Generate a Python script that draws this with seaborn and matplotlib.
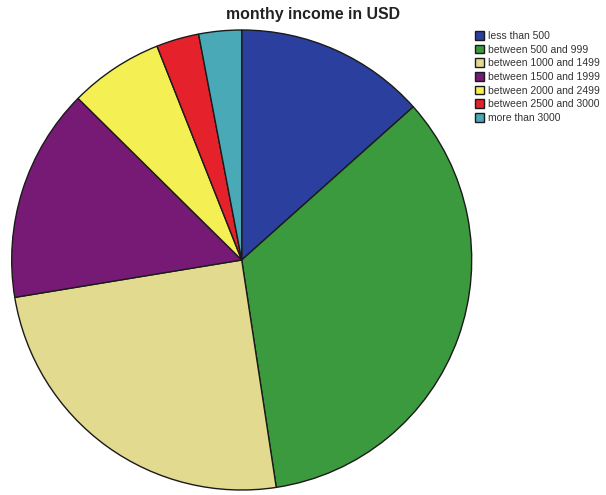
import matplotlib
matplotlib.use("Agg")
import matplotlib.pyplot as plt
import seaborn as sns

sns.set_style("white")
plt.rcParams['font.family'] = ['Liberation Sans', 'DejaVu Sans']

categories = ["less than 500", "between 500 and 999", "between 1000 and 1499",
              "between 1500 and 1999", "between 2000 and 2499",
              "between 2500 and 3000", "more than 3000"]
shares = [13.4, 34.2, 24.8, 15.0, 6.6, 3.0, 3.0]
colors = ["#2b3f9e", "#3b9a3d", "#e2da8e", "#771a76", "#f4ef52", "#e5222b", "#4aa9b6"]
title = "monthy income in USD"

fig = plt.figure(figsize=(6.06, 4.95), dpi=100)
ax = fig.add_axes([11.7 / 606, 5 / 495, 460 / 606, 460 / 495])
wedges, _ = ax.pie(shares, colors=colors, startangle=90, counterclock=False,
                   wedgeprops=dict(edgecolor="#1a1a1a", linewidth=1.0))
ax.set_aspect("equal")
ax.set_xlim(-1.0, 1.0)
ax.set_ylim(-1.0, 1.0)
ax.axis("off")

fig.text(313 / 606, 1 - 15 / 495, title, ha="center", va="center",
         fontsize=11.4, fontweight="bold", color="#222222")

leg = fig.legend(wedges, categories, loc="upper left",
                 bbox_to_anchor=(473 / 606, 1 - 29 / 495), frameon=False,
                 fontsize=7.5, handlelength=0.9, handleheight=0.9,
                 handletextpad=0.3, labelspacing=0.35, borderpad=0.2,
                 borderaxespad=0)
for t in leg.get_texts():
    t.set_color("#333333")

fig.savefig("out.png", dpi=100)
